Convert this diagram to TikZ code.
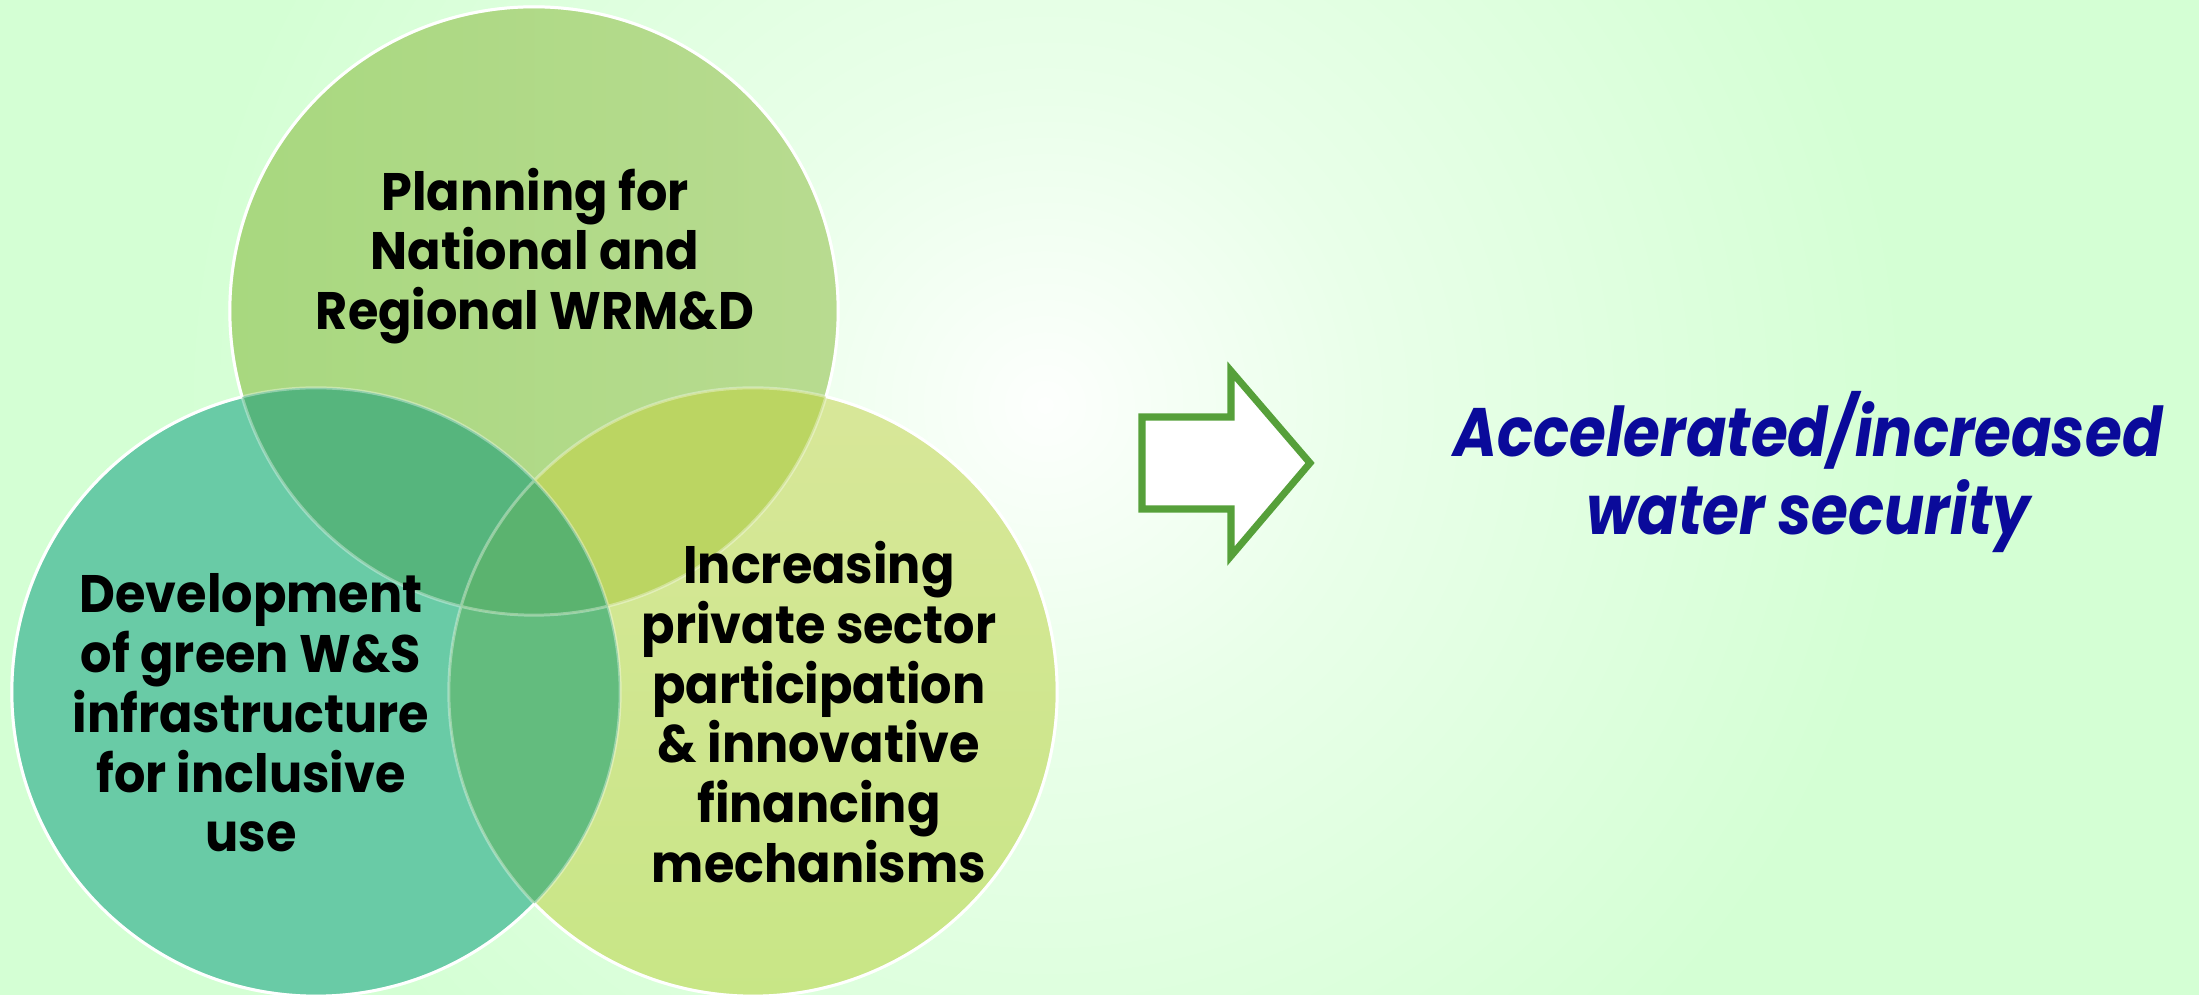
\documentclass[tikz,border=0pt]{standalone}
\usepackage{fontspec}
\setmainfont{Poppins}
\newfontfamily\lblfont{Poppins}[FakeStretch=0.935]
\newfontfamily\outfont{Poppins}[FakeStretch=0.87]
\definecolor{bgin}{HTML}{FDFFFD}
\definecolor{bgmid}{HTML}{E9FFE9}
\definecolor{bgout}{HTML}{D4FFD4}
\definecolor{ctopL}{HTML}{A8D87F}
\definecolor{ctopR}{HTML}{B8DB90}
\definecolor{cleft}{HTML}{69CBA6}
\definecolor{crightA}{HTML}{C8E686}
\definecolor{crightB}{HTML}{D8E799}
\definecolor{ctl}{HTML}{56B57D}
\definecolor{ctr}{HTML}{BBD562}
\definecolor{clr}{HTML}{63BC7E}
\definecolor{call}{HTML}{5BB36F}
\definecolor{arrowgreen}{HTML}{56A03A}
\definecolor{outblue}{HTML}{0A0A9A}
\pgfdeclareradialshading{glow}{\pgfpointorigin}{color(0bp)=(bgin); color(9bp)=(bgmid); color(24bp)=(bgout); color(50bp)=(bgout)}
\begin{document}
\begin{tikzpicture}[x=0.01cm,y=-0.01cm,
  lbl/.style={align=center,font=\lblfont\bfseries\fontsize{15}{17}\selectfont,text=black,inner sep=0pt},
  outc/.style={align=center,font=\outfont\bfseries\itshape\fontsize{19.5}{22}\selectfont,text=outblue,inner sep=0pt},
  rim/.style={draw=white,line width=0.85pt},
  arrowline/.style={draw=arrowgreen,line width=2pt,fill=white,line join=miter}]
\useasboundingbox (0,0) rectangle (2199,995);
\begin{scope}
\clip (0,0) rectangle (2199,995);
\fill[bgout] (0,0) rectangle (2199,995);
\shade[shading=glow] (1045,405) circle (9cm);
\coordinate (T) at (534,311);
\coordinate (L) at (316,692);
\coordinate (R) at (753,692);
\shade[left color=ctopL,right color=ctopR] (T) circle (3.04cm);
\fill[cleft] (L) circle (3.04cm);
\shade[shading angle=225,top color=crightB,bottom color=crightA] (R) circle (3.04cm);
\begin{scope}
  \clip (L) circle (3.04cm);
  \fill[clr] (R) circle (3.04cm);
\end{scope}
\begin{scope}
  \clip (T) circle (3.04cm);
  \fill[ctl] (L) circle (3.04cm);
  \fill[ctr] (R) circle (3.04cm);
  \clip (L) circle (3.04cm);
  \fill[call] (R) circle (3.04cm);
\end{scope}
% faint inner rims
\draw[rim,draw opacity=0.35] (T) circle (3.04cm) (L) circle (3.04cm) (R) circle (3.04cm);
% outer rims
\begin{scope}[even odd rule]
  \clip (-100,-100) rectangle (2300,1100) (L) circle (3.04cm);
  \clip (-100,-100) rectangle (2300,1100) (R) circle (3.04cm);
  \draw[rim] (T) circle (3.04cm);
\end{scope}
\begin{scope}[even odd rule]
  \clip (-100,-100) rectangle (2300,1100) (T) circle (3.04cm);
  \clip (-100,-100) rectangle (2300,1100) (R) circle (3.04cm);
  \draw[rim] (L) circle (3.04cm);
\end{scope}
\begin{scope}[even odd rule]
  \clip (-100,-100) rectangle (2300,1100) (T) circle (3.04cm);
  \clip (-100,-100) rectangle (2300,1100) (L) circle (3.04cm);
  \draw[rim] (R) circle (3.04cm);
\end{scope}
\end{scope}
\node[lbl] (ttop) at (535,256) {Planning for\\National and\\Regional WRM\&D};
\node[lbl] (tleft) at (251,713) {Development\\of green W\&S\\infrastructure\\for inclusive\\use};
\node[lbl] (tright) at (819,712) {Increasing\\private sector\\participation\\\& innovative\\financing\\mechanisms};
\draw[arrowline] (1142,417) -- (1231,417) -- (1231,371) -- (1310,463) -- (1231,556) -- (1231,509) -- (1142,509) -- cycle;
\node[outc] (out) at (1808,472) {Accelerated/increased\\water security};
\end{tikzpicture}
\end{document}
